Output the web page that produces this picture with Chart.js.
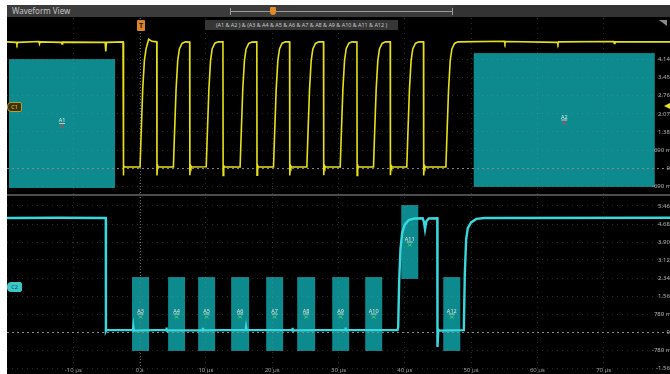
<!DOCTYPE html>
<html>
<head>
<meta charset="utf-8">
<script src="https://cdn.jsdelivr.net/npm/chart.js@4.4.1/dist/chart.umd.min.js"></script>
<style>
  html, body { margin: 0; padding: 0; background: #fff; width: 670px; height: 374px; overflow: hidden;
    font-family: "Noto Sans", "DejaVu Sans", sans-serif; }
  #scope { position: absolute; left: 7px; top: 5px; width: 663px; height: 369px; background: #000; overflow: hidden; }
  #bar { position: absolute; left: 0; top: 0; width: 663px; height: 12px; background: #3b3b3b; }
  #bar .title { position: absolute; left: 5px; top: 1px; font-size: 8px; line-height: 10px; color: #c4c4c4; }
  #bar .track { position: absolute; left: 223px; top: 6px; width: 222px; height: 1px; background: #9a9a9a; }
  #bar .endL, #bar .endR { position: absolute; top: 3px; width: 1px; height: 7px; background: #9a9a9a; }
  #bar .endL { left: 223px; } #bar .endR { left: 445px; }
  #bar .knob { position: absolute; left: 263px; top: 2px; width: 6px; height: 8px; background: #e08a2a; border-radius: 1px 1px 3px 3px; }
  #bar .rest { position: absolute; left: 446px; top: 0; width: 217px; height: 12px; background: #333; }
  #upper { position: absolute; left: 0; top: 13px; }
  #lower { position: absolute; left: 0; top: 192px; }
  #sep { position: absolute; left: 0; top: 189px; width: 663px; height: 2px; background: #4c4c4c; }
  #trig { position: absolute; left: 130px; top: 15px; width: 8px; height: 11px; background: #d9822b; color: #3a1e00;
    font-size: 7px; line-height: 11px; text-align: center; font-weight: bold; border-radius: 1px; }
  #expr { position: absolute; left: 198px; top: 15px; width: 193px; height: 10px; background: #363636; color: #c8c8c8;
    font-size: 5.4px; line-height: 10px; text-align: center; white-space: nowrap; overflow: hidden; }
  .tag { position: absolute; left: 0; width: 13px; height: 8px; font-size: 5.5px; line-height: 8px; text-align: center;
    border-radius: 4px 2px 2px 4px; }
  #c1 { top: 97px; background: #3d3210; color: #e8d040; border: 1px solid #b8a020; }
  #c2 { top: 277px; background: #3cc8c8; color: #0b3c3c; border: 1px solid #3cc8c8; }
  #lvl { position: absolute; left: 657px; top: 98px; width: 0; height: 0; border-top: 3px solid transparent;
    border-bottom: 3px solid transparent; border-right: 6px solid #e6e01a; }
  #corner { position: absolute; left: 652px; top: 15px; width: 0; height: 0; border-top: 6px solid #8a8a8a;
    border-left: 8px solid transparent; }
</style>
</head>
<body>
<div id="scope">
  <div id="bar">
    <div class="title">Waveform View</div>
    <div class="rest"></div>
    <div class="track"></div><div class="endL"></div><div class="endR"></div>
    <div class="knob"></div>
  </div>
  <canvas id="upper" width="663" height="176"></canvas>
  <div id="sep"></div>
  <canvas id="lower" width="663" height="177"></canvas>
  <div id="trig">T</div>
  <div id="expr">(A1 &amp; A2 ) &amp; (A3 &amp; A4 &amp; A5 &amp; A6 &amp; A7 &amp; A8 &amp; A9 &amp; A10 &amp; A11 &amp; A12 )</div>
  <div id="corner"></div>
  <div id="c1" class="tag">C1</div>
  <div id="c2" class="tag">C2</div>
  <div id="lvl"></div>
</div>
<script>
// Time axis (µs)
const timeTicks = [-10, 0, 10, 20, 30, 40, 50, 60, 70];
const timeTickLabels = ['-10 µs', '0 s', '10 µs', '20 µs', '30 µs', '40 µs', '50 µs', '60 µs', '70 µs'];

// Channel 1 vertical scale
const ch1Ticks = [4.14, 3.45, 2.76, 2.07, 1.38, 0.69, 0, -0.69];
const ch1TickLabels = ['4.14 V', '3.45 V', '2.76 V', '2.07 V', '1.38 V', '690 mV', '0 V', '-690 mV'];

// Channel 2 vertical scale
const ch2Ticks = [5.46, 4.68, 3.90, 3.12, 2.34, 1.56, 0.78, 0, -0.78, -1.56];
const ch2TickLabels = ['5.46 V', '4.68 V', '3.90 V', '3.12 V', '2.34 V', '1.56 V', '780 mV', '0 V', '-780 mV', '-1.56 V'];

// Channel 1 trace: time (µs) and voltage (V)
const ch1Time = [
  -20, -18.6, -18.5, -18.4, -15.2, -15.1, -15.0, -11.8, -11.7, -11.6, -5.2, -5.1, -5.0, -2.50,
  -2.47, -2.38, -2.30,
  0.07, 0.22, 0.47, 0.72, 0.97, 1.37, 1.87, 2.59, 2.62, 2.71, 2.79,
  5.10, 5.25, 5.50, 5.75, 6.00, 6.40, 6.90, 7.55, 7.58, 7.67, 7.75,
  10.05, 10.20, 10.45, 10.70, 10.95, 11.35, 11.85, 12.57, 12.60, 12.69, 12.77,
  15.16, 15.31, 15.56, 15.81, 16.06, 16.46, 16.96, 17.68, 17.71, 17.80, 17.88,
  20.20, 20.35, 20.60, 20.85, 21.10, 21.50, 22.00, 22.62, 22.65, 22.74, 22.82,
  25.23, 25.38, 25.63, 25.88, 26.13, 26.53, 27.03, 27.74, 27.77, 27.86, 27.94,
  30.26, 30.41, 30.66, 30.91, 31.16, 31.56, 32.06, 32.78, 32.81, 32.90, 32.98,
  35.28, 35.43, 35.68, 35.93, 36.18, 36.58, 37.08, 37.80, 37.83, 37.92, 38.00,
  40.30, 40.45, 40.70, 40.95, 41.20, 41.60, 42.10, 42.82, 42.85, 42.94, 43.02,
  46.20, 46.35, 46.60, 46.85, 47.10, 47.50, 48.00,
  55.0, 55.1, 55.2, 63.0, 63.1, 63.2, 71.5, 71.6, 71.7, 80
];
const ch1Volt = [
  4.82, 4.80, 4.73, 4.80, 4.83, 4.74, 4.82, 4.80, 4.74, 4.81, 4.80, 4.45, 4.80, 4.82,
  -0.28, 0.10, 0.04,
  0.04, 1.2, 3.0, 4.1, 4.55, 4.92, 4.84, 4.82, -0.28, 0.10, 0.04,
  0.04, 1.2, 3.0, 4.1, 4.55, 4.76, 4.82, 4.81, -0.27, 0.10, 0.04,
  0.05, 1.2, 3.0, 4.1, 4.56, 4.77, 4.82, 4.82, -0.28, 0.09, 0.04,
  0.04, 1.2, 3.0, 4.1, 4.55, 4.76, 4.81, 4.82, -0.27, 0.10, 0.04,
  0.04, 1.2, 3.0, 4.1, 4.55, 4.77, 4.82, 4.82, -0.28, 0.10, 0.04,
  0.04, 1.2, 3.0, 4.1, 4.55, 4.76, 4.82, 4.82, -0.27, 0.10, 0.04,
  0.04, 1.2, 3.0, 4.1, 4.56, 4.77, 4.82, 4.81, -0.28, 0.10, 0.04,
  0.04, 1.2, 3.0, 4.1, 4.55, 4.76, 4.82, 4.82, -0.27, 0.10, 0.04,
  0.04, 1.2, 3.0, 4.1, 4.55, 4.76, 4.82, 4.82, -0.28, 0.10, 0.04,
  0.04, 1.2, 3.0, 4.1, 4.55, 4.76, 4.82,
  4.84, 4.76, 4.83, 4.80, 4.74, 4.82, 4.83, 4.76, 4.82, 4.82
];

// Channel 2 trace: time (µs) and voltage (V)
const ch2Time = [
  -20, -12, -5.10, -5.08, -5.0, -4.9,
  -1.0, -0.95, -0.9, 4.0, 4.05, 4.1, 9.5, 9.55, 9.6, 16.0, 16.05, 16.1, 23.0, 23.05, 23.1, 31.0, 31.05, 31.1,
  38.9, 39.0, 39.15, 39.35, 39.6, 40.0, 40.6, 41.5, 42.7, 42.9, 43.05, 43.25, 43.6, 44.9,
  44.93, 45.05, 45.2, 48.9,
  49.05, 49.25, 49.5, 50.0, 50.8, 52.0, 80
];
const ch2Volt = [
  4.94, 4.95, 4.94, 0.05, 0.10, 0.08,
  0.08, 0.20, 0.06, 0.09, 0.19, 0.07, 0.08, 0.18, 0.07, 0.09, 0.19, 0.08, 0.08, 0.18, 0.07, 0.09, 0.19, 0.08,
  0.08, 0.2, 2.2, 3.6, 4.3, 4.65, 4.85, 4.92, 4.93, 4.75, 4.45, 4.8, 4.92, 4.93,
  -0.65, 0.10, 0.06, 0.08,
  2.5, 4.0, 4.5, 4.75, 4.9, 4.94, 4.95
];

// Search zones on channel 1 (time µs, voltage V)
const ch1ZoneNames = ['A1', 'A2'];
const ch1ZoneStart = [-19.7, 50.4];
const ch1ZoneEnd = [-3.7, 77.7];
const ch1ZoneLow = [-0.76, -0.72];
const ch1ZoneHigh = [4.16, 4.39];

// Search zones on channel 2 (time µs, voltage V)
const ch2ZoneNames = ['A3', 'A4', 'A5', 'A6', 'A7', 'A8', 'A9', 'A10', 'A11', 'A12'];
const ch2ZoneStart = [-1.14, 4.30, 8.83, 13.81, 19.09, 23.77, 29.05, 34.03, 39.46, 45.80];
const ch2ZoneEnd = [1.43, 6.86, 11.39, 16.52, 21.65, 26.48, 31.61, 36.59, 42.03, 48.37];
const ch2ZoneLow = [-0.82, -0.82, -0.82, -0.82, -0.82, -0.82, -0.82, -0.82, 2.30, -0.82];
const ch2ZoneHigh = [2.38, 2.38, 2.38, 2.38, 2.38, 2.38, 2.38, 2.38, 5.50, 2.38];

const FONT = 'Noto Sans';

// Teal zone rectangles, drawn beneath the graticule
const zonePlugin = {
  id: 'zones',
  beforeDraw(chart, args, opts) {
    const { ctx, scales: { x, y } } = chart;
    ctx.save();
    ctx.fillStyle = '#0c8a8e';
    opts.names.forEach((n, i) => {
      const x0 = x.getPixelForValue(opts.start[i]);
      const x1 = x.getPixelForValue(opts.end[i]);
      const y0 = y.getPixelForValue(opts.high[i]);
      const y1 = y.getPixelForValue(opts.low[i]);
      ctx.fillRect(x0, y0, x1 - x0, y1 - y0);
    });
    ctx.restore();
  },
  beforeDatasetsDraw(chart, args, opts) {
    const { ctx, scales: { x, y } } = chart;
    ctx.save();
    // zero-volt reference
    const y0 = y.getPixelForValue(0);
    ctx.strokeStyle = '#8a8a8a';
    ctx.lineWidth = 1;
    ctx.setLineDash([2, 3]);
    ctx.beginPath(); ctx.moveTo(0, y0 + 0.5); ctx.lineTo(chart.width, y0 + 0.5); ctx.stroke();
    // trigger time marker
    const xt = Math.round(x.getPixelForValue(0)) + 0.5;
    ctx.strokeStyle = '#6a6a6a';
    ctx.setLineDash([1, 2]);
    ctx.beginPath(); ctx.moveTo(xt, 0); ctx.lineTo(xt, chart.height); ctx.stroke();
    ctx.setLineDash([]);
    // zone captions
    ctx.font = '5.5px "' + FONT + '"';
    ctx.textAlign = 'center';
    ctx.textBaseline = 'middle';
    opts.names.forEach((n, i) => {
      const cx = (x.getPixelForValue(opts.start[i]) + x.getPixelForValue(opts.end[i])) / 2;
      const cy = (y.getPixelForValue(opts.high[i]) + y.getPixelForValue(opts.low[i])) / 2;
      ctx.fillStyle = '#e4e4e4';
      ctx.fillText(n, cx, cy - 3);
      ctx.strokeStyle = '#e4e4e4';
      ctx.lineWidth = 0.8;
      ctx.beginPath(); ctx.moveTo(cx - 3, cy); ctx.lineTo(cx + 3, cy); ctx.stroke();
      ctx.strokeStyle = opts.mark;
      ctx.beginPath();
      ctx.moveTo(cx - 2, cy + 1.5); ctx.lineTo(cx + 2, cy + 4.5);
      ctx.moveTo(cx + 2, cy + 1.5); ctx.lineTo(cx - 2, cy + 4.5);
      ctx.stroke();
    });
    ctx.restore();
  }
};

// Voltage labels along the right edge and time labels along the bottom
const labelPlugin = {
  id: 'scopeLabels',
  afterDraw(chart, args, opts) {
    const { ctx, scales: { x, y } } = chart;
    ctx.save();
    ctx.font = '6px "' + FONT + '"';
    ctx.textBaseline = 'middle';
    ctx.fillStyle = '#b4b4b4';
    ctx.textAlign = 'right';
    opts.values.forEach((v, i) => ctx.fillText(opts.labels[i], chart.width + 5, y.getPixelForValue(v)));
    if (opts.showTime) {
      ctx.fillStyle = '#a0a0a0';
      ctx.textAlign = 'center';
      timeTicks.forEach((t, i) => ctx.fillText(timeTickLabels[i], x.getPixelForValue(t), chart.height - 4));
    }
    ctx.restore();
  }
};

function scopeChart(id, times, volts, color, width, yMin, yMax, ticks, tickLabels, zones, showTime) {
  return new Chart(document.getElementById(id), {
    type: 'line',
    data: {
      datasets: [{
        data: times.map((t, i) => ({ x: t, y: volts[i] })),
        borderColor: color,
        borderWidth: width,
        pointRadius: 0,
        tension: 0,
        fill: false
      }]
    },
    options: {
      responsive: false,
      animation: false,
      devicePixelRatio: 1,
      events: [],
      layout: { padding: 0 },
      plugins: {
        legend: { display: false },
        tooltip: { enabled: false },
        zones: zones,
        scopeLabels: { values: ticks, labels: tickLabels, showTime: showTime }
      },
      scales: {
        x: {
          type: 'linear', min: -20, max: 80,
          afterBuildTicks: s => { s.ticks = timeTicks.map(v => ({ value: v })); },
          afterFit: s => { s.height = 0; },
          ticks: { display: false },
          grid: { color: 'rgba(150,150,150,0.3)', drawTicks: false, lineWidth: 1 },
          border: { display: false, dash: [1, 4] }
        },
        y: {
          type: 'linear', position: 'right', min: yMin, max: yMax,
          afterBuildTicks: s => { s.ticks = ticks.map(v => ({ value: v })); },
          afterFit: s => { s.width = 0; },
          ticks: { display: false },
          grid: { color: 'rgba(150,150,150,0.3)', drawTicks: false, lineWidth: 1 },
          border: { display: false, dash: [1, 4] }
        }
      }
    },
    plugins: [zonePlugin, labelPlugin]
  });
}

scopeChart('upper', ch1Time, ch1Volt, '#e6e01a', 1.6, -0.99, 5.73, ch1Ticks, ch1TickLabels,
  { names: ch1ZoneNames, start: ch1ZoneStart, end: ch1ZoneEnd, low: ch1ZoneLow, high: ch1ZoneHigh, mark: '#e04040' }, false);
scopeChart('lower', ch2Time, ch2Volt, '#3ad8dc', 2.4, -1.82, 5.85, ch2Ticks, ch2TickLabels,
  { names: ch2ZoneNames, start: ch2ZoneStart, end: ch2ZoneEnd, low: ch2ZoneLow, high: ch2ZoneHigh, mark: '#46d36a' }, true);
</script>
</body>
</html>
